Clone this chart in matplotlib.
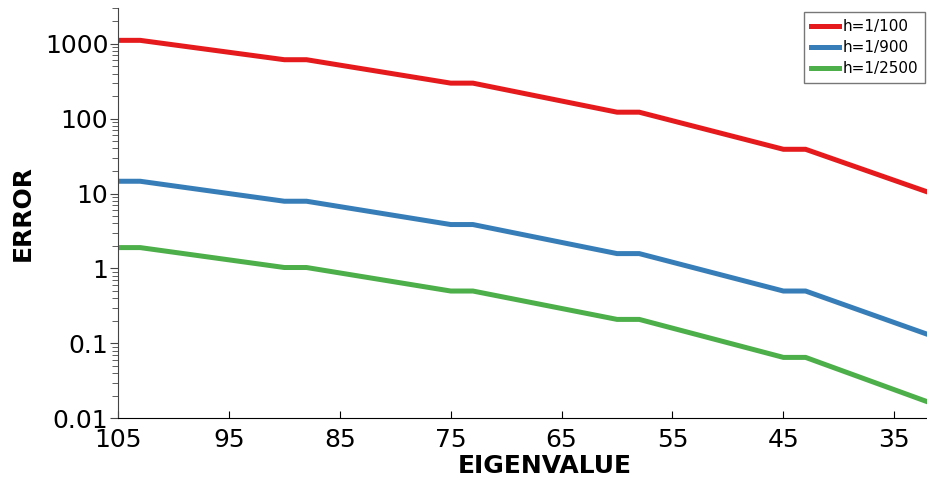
import matplotlib
matplotlib.use("Agg")
import matplotlib.pyplot as plt
from matplotlib.ticker import LogLocator, FixedLocator, NullFormatter

eigenvalue = [105, 103, 90, 88, 75, 73, 60, 58, 45, 43, 32]
err_h100 = [1110, 1110, 612, 612, 298, 298, 122, 122, 39, 39, 10.5]
err_h900 = [14.6, 14.6, 7.9, 7.9, 3.86, 3.86, 1.58, 1.58, 0.50, 0.50, 0.132]
err_h2500 = [1.9, 1.9, 1.03, 1.03, 0.50, 0.50, 0.209, 0.209, 0.065, 0.065, 0.0166]
series_labels = ["h=1/100", "h=1/900", "h=1/2500"]
colors = ["#e41a1c", "#377eb8", "#4daf4a"]
x_ticks = [105, 95, 85, 75, 65, 55, 45, 35]
y_ticks = [0.01, 0.1, 1, 10, 100, 1000]
y_ticklabels = ["0.01", "0.1", "1", "10", "100", "1000"]

plt.rcParams['font.family'] = ['DejaVu Sans']
fig = plt.figure(figsize=(9.27, 4.78), dpi=100)
ax = fig.add_axes([118/927, 1-418.3/478, 1-118/927, (418.3-8)/478])

for ys, lab, c in zip([err_h100, err_h900, err_h2500], series_labels, colors):
    ax.plot(eigenvalue, ys, color=c, lw=3.6, label=lab, solid_joinstyle='miter')

ax.set_yscale('log')
ax.set_xlim(105, 32.05)
ax.set_ylim(0.01, 3000)
ax.set_xticks(x_ticks)
ax.set_xticklabels([str(v) for v in x_ticks])
ax.yaxis.set_major_locator(FixedLocator(y_ticks))
ax.set_yticklabels(y_ticklabels)
ax.yaxis.set_minor_locator(LogLocator(base=10, subs=range(2, 10), numticks=20))
ax.yaxis.set_minor_formatter(NullFormatter())

for s in ['top', 'right']:
    ax.spines[s].set_visible(False)
ax.spines['left'].set_color('#444444')
ax.spines['bottom'].set_color('black')
ax.tick_params(axis='x', direction='in', length=5, labelsize=18, pad=7)
ax.tick_params(axis='y', which='major', direction='out', length=6, labelsize=18, pad=1, color='#444444')
ax.tick_params(axis='y', which='minor', direction='out', length=4, color='#444444')

ax.set_xlabel("EIGENVALUE", fontsize=18, fontweight='bold')
ax.xaxis.set_label_coords(0.527, -0.087)
ax.set_ylabel("ERROR", fontsize=18, fontweight='bold')
ax.yaxis.set_label_coords(-0.1026, 0.5)

leg = ax.legend(loc='upper right', bbox_to_anchor=(0.998, 0.99), fontsize=11, frameon=True,
                fancybox=False, edgecolor='#555555', handlelength=1.85, handletextpad=0.25,
                borderpad=0.45, labelspacing=0.4, borderaxespad=0.0)
leg.get_frame().set_linewidth(1.0)

fig.savefig("out.png", dpi=100)
